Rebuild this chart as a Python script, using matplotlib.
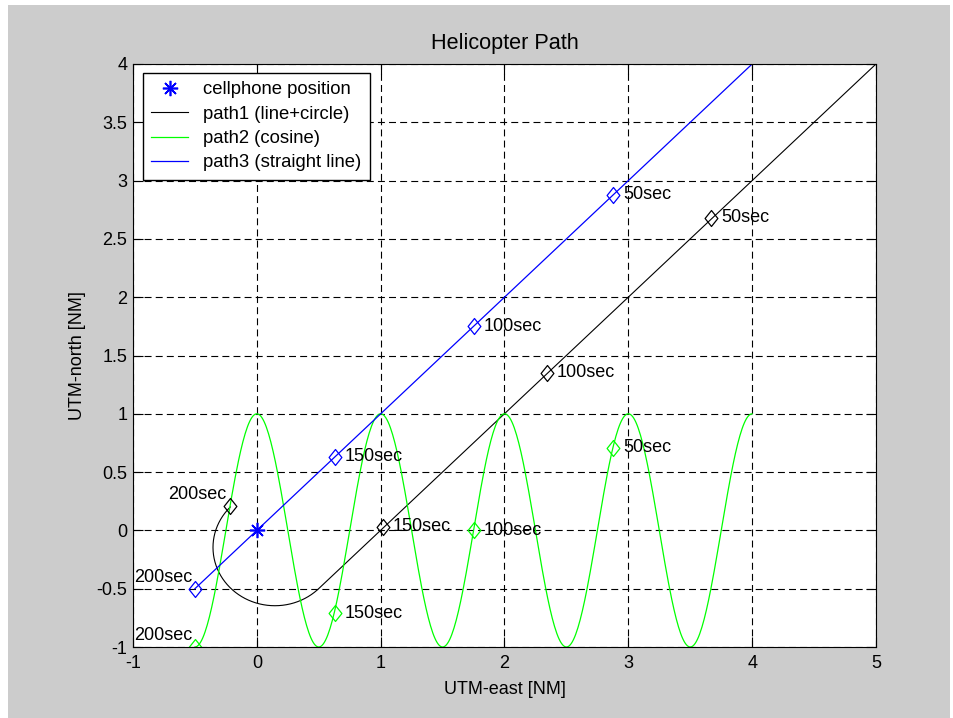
import numpy as np
import matplotlib.pyplot as plt
from matplotlib.patches import Rectangle
from matplotlib.path import Path
from matplotlib.ticker import FormatStrFormatter, MultipleLocator

plt.rcParams['font.family'] = ['Liberation Sans', 'DejaVu Sans']
plt.rcParams['font.size'] = 13
plt.rcParams['lines.scale_dashes'] = False

# cellphone position
phone_x = [0.0]
phone_y = [0.0]

# path1: straight leg, then an arc around the phone
path1_start = (5.0, 4.0)
path1_turn = (0.5, -0.5)
path1_center = (0.146, -0.146)
path1_radius = 0.5
path1_arc_deg = (-45.0, -224.0)

# path2: cosine track, path3: straight line
path2_xrange = (-0.5, 4.0)
path3_start = (4.0, 4.0)
path3_end = (-0.5, -0.5)

# time stamps along each path
marker_times = ['50sec', '100sec', '150sec', '200sec']
path1_mx = [3.67, 2.34, 1.02, -0.22]
path1_my = [2.68, 1.35, 0.03, 0.21]
path2_mx = [2.88, 1.75, 0.63, -0.50]
path2_my = [0.71, 0.00, -0.71, -1.00]
path3_mx = [2.88, 1.75, 0.63, -0.50]
path3_my = [2.88, 1.75, 0.63, -0.50]

# build the path curves
ang = np.radians(np.linspace(path1_arc_deg[0], path1_arc_deg[1], 200))
p1x = np.concatenate(([path1_start[0], path1_turn[0]],
                      path1_center[0] + path1_radius * np.cos(ang)))
p1y = np.concatenate(([path1_start[1], path1_turn[1]],
                      path1_center[1] + path1_radius * np.sin(ang)))
p2x = np.linspace(path2_xrange[0], path2_xrange[1], 500)
p2y = np.cos(2 * np.pi * p2x)
p3x = [path3_start[0], path3_end[0]]
p3y = [path3_start[1], path3_end[1]]

diamond = Path([(0, 1), (0.8, 0), (0, -1), (-0.8, 0), (0, 1)],
               [Path.MOVETO, Path.LINETO, Path.LINETO, Path.LINETO, Path.CLOSEPOLY])

fig = plt.figure(figsize=(9.54, 7.18), dpi=100, facecolor='white')
fig.patches.append(Rectangle((8 / 954, 0), 942 / 954, 713 / 718,
                             transform=fig.transFigure, facecolor='#cccccc',
                             edgecolor='none', zorder=-10))
ax = fig.add_axes([133 / 954, 71 / 718, 743 / 954, 583 / 718])

h0, = ax.plot(phone_x, phone_y, linestyle='none', marker=(8, 2, 0),
              markersize=11, markeredgewidth=1.2, color='blue', zorder=5)
h1, = ax.plot(p1x, p1y, color='black', lw=0.8)
h2, = ax.plot(p2x, p2y, color='#00ff00', lw=0.9)
h3, = ax.plot(p3x, p3y, color='blue', lw=0.9)

for mx, my, c in [(path1_mx, path1_my, 'black'),
                  (path2_mx, path2_my, '#00ff00'),
                  (path3_mx, path3_my, 'blue')]:
    ax.plot(mx, my, linestyle='none', marker=diamond, markersize=11.5,
            markerfacecolor='none', markeredgecolor=c, markeredgewidth=0.9)
    for x, y, t in zip(mx, my, marker_times):
        if t == '200sec':
            ax.annotate(t, (x, y), xytext=(-2, 8), textcoords='offset points',
                        ha='right', va='center')
        else:
            ax.annotate(t, (x, y), xytext=(7, 0), textcoords='offset points',
                        ha='left', va='center')

ax.set_xlim(-1, 5)
ax.set_ylim(-1, 4)
ax.xaxis.set_major_locator(MultipleLocator(1))
ax.yaxis.set_major_locator(MultipleLocator(0.5))
ax.xaxis.set_major_formatter(FormatStrFormatter('%g'))
ax.yaxis.set_major_formatter(FormatStrFormatter('%g'))
ax.tick_params(direction='in', length=7, width=0.8, top=True, right=True)
ax.tick_params(axis='x', pad=6)
ax.tick_params(axis='y', pad=4)
ax.grid(True, color='black', linestyle=(0, (5, 3)), linewidth=0.8)
ax.set_axisbelow(True)
for s in ax.spines.values():
    s.set_linewidth(0.8)

ax.set_title('Helicopter Path', pad=11)
ax.set_xlabel('UTM-east [NM]', labelpad=6.5)
ax.set_ylabel('UTM-north [NM]', labelpad=7.5)

leg = ax.legend([h0, h1, h2, h3],
                ['cellphone position', 'path1 (line+circle)', 'path2 (cosine)',
                 'path3 (straight line)'],
                loc='upper left', bbox_to_anchor=(10 / 743, 574 / 583),
                borderaxespad=0, fancybox=False, edgecolor='black', framealpha=1,
                handlelength=2.0, labelspacing=0.4, borderpad=0.45,
                handletextpad=0.8, fontsize=13.3)
leg.get_frame().set_linewidth(1.0)

fig.savefig('out.png', dpi=100, facecolor=fig.get_facecolor())
